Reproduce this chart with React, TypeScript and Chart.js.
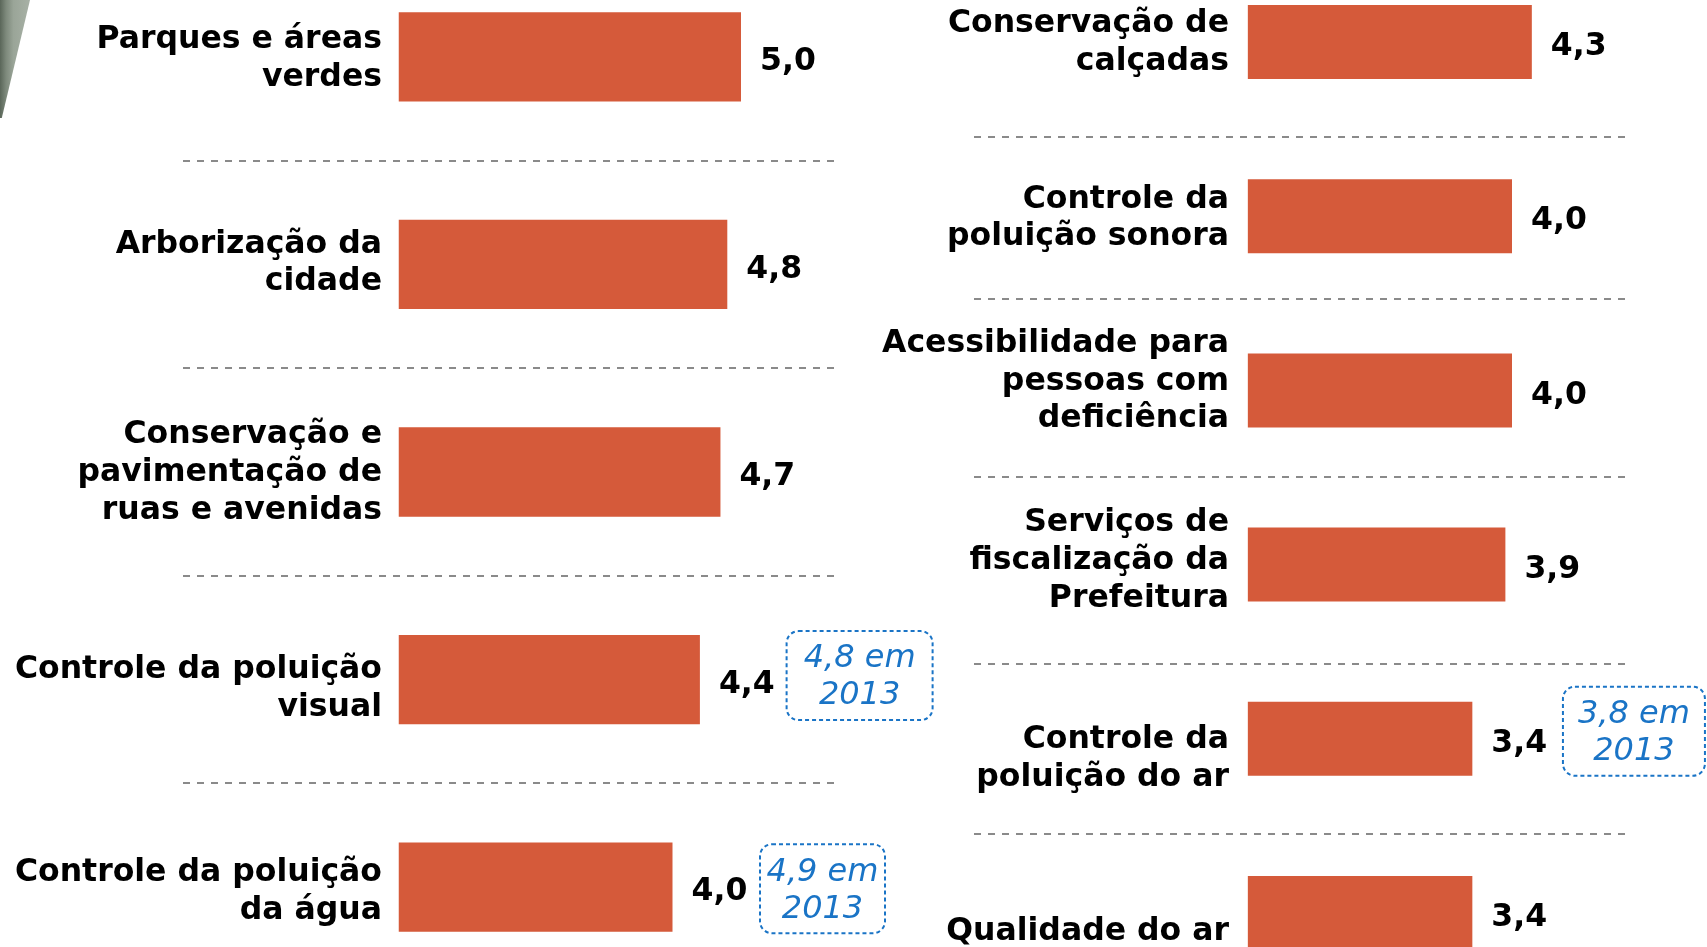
import React, { useEffect, useRef } from "react";
import { Chart, registerables } from "chart.js";

Chart.register(...registerables);

// ---------- data ----------
const leftCategories: string[][] = [
  ["Parques e áreas", "verdes"],
  ["Arborização da", "cidade"],
  ["Conservação e", "pavimentação de", "ruas e avenidas"],
  ["Controle da poluição", "visual"],
  ["Controle da poluição", "da água"],
];
const leftValues: number[] = [5.0, 4.8, 4.7, 4.4, 4.0];
const leftValues2013: (number | null)[] = [null, null, null, 4.8, 4.9];

const rightCategories: string[][] = [
  ["Conservação de", "calçadas"],
  ["Controle da", "poluição sonora"],
  ["Acessibilidade para", "pessoas com", "deficiência"],
  ["Serviços de", "fiscalização da", "Prefeitura"],
  ["Controle da", "poluição do ar"],
  ["Qualidade do ar"],
];
const rightValues: number[] = [4.3, 4.0, 4.0, 3.9, 3.4, 3.4];
const rightValues2013: (number | null)[] = [null, null, null, null, 3.8, null];

// ---------- style / layout ----------
const BAR_COLOR = "#D55A3A";
const NOTE_COLOR = "#1a74c6";
const FONT_FAMILY = "'DejaVu Sans', Verdana, sans-serif";
const LABEL_SIZE = 31.5;

type NoteGeom = { dx: number; dy: number; w: number };

type Panel = {
  categories: string[][];
  values: number[];
  prev: (number | null)[];
  left: number;
  top: number;
  width: number;
  height: number;
  axisWidth: number;
  tickPad: number;
  unitPx: number;
  xMax: number;
  barPct: number;
  sepFrom: number;
  sepTo: number;
  sepOffsets: number[];
  labelOffsets: number[];
  noteGeom: (NoteGeom | null)[];
};

const fmt = (v: number) => v.toFixed(1).replace(".", ",");

function makeDecor(p: Panel) {
  return {
    id: "decor",
    afterLayout(chart: any) {
      const s = chart.scales.y;
      const items = s.getLabelItems(chart.chartArea);
      items.forEach((it: any, i: number) => {
        it.options.translation[1] += p.labelOffsets[i] || 0;
      });
    },
    afterDatasetsDraw(chart: any) {
      const ctx: CanvasRenderingContext2D = chart.ctx;
      const meta = chart.getDatasetMeta(0);
      const area = chart.chartArea;
      const bars = meta.data;
      ctx.save();
      // dashed separators
      ctx.strokeStyle = "#8a8a8a";
      ctx.lineWidth = 2;
      ctx.setLineDash([7, 7]);
      for (let i = 1; i < bars.length; i++) {
        const y = Math.round((bars[i - 1].y + bars[i].y) / 2 + (p.sepOffsets[i - 1] || 0));
        ctx.beginPath();
        ctx.moveTo(area.left + p.sepFrom, y);
        ctx.lineTo(area.left + p.sepTo, y);
        ctx.stroke();
      }
      ctx.setLineDash([]);
      // value labels
      ctx.fillStyle = "#000";
      ctx.font = `bold ${LABEL_SIZE}px ${FONT_FAMILY}`;
      ctx.textAlign = "left";
      ctx.textBaseline = "middle";
      bars.forEach((b: any, i: number) => {
        ctx.fillText(fmt(p.values[i]), b.x + 19, b.y + 5);
      });
      // 2013 notes
      ctx.font = `italic 32px ${FONT_FAMILY}`;
      bars.forEach((b: any, i: number) => {
        const pv = p.prev[i];
        const g = p.noteGeom[i];
        if (pv == null || !g) return;
        const lines = [`${fmt(pv)} em`, "2013"];
        const boxW = g.w;
        const boxH = 89;
        const x0 = b.x + g.dx;
        const cy = b.y + g.dy;
        ctx.strokeStyle = NOTE_COLOR;
        ctx.lineWidth = 2;
        ctx.setLineDash([4, 3]);
        ctx.beginPath();
        (ctx as any).roundRect(x0, cy - boxH / 2, boxW, boxH, 12);
        ctx.stroke();
        ctx.setLineDash([]);
        ctx.fillStyle = NOTE_COLOR;
        ctx.textAlign = "center";
        ctx.fillText(lines[0], x0 + boxW / 2, cy - 16.5);
        ctx.fillText(lines[1], x0 + boxW / 2, cy + 20.5);
      });
      ctx.restore();
    },
  };
}

function BarPanel({ p }: { p: Panel }) {
  const ref = useRef<HTMLCanvasElement | null>(null);
  useEffect(() => {
    if (!ref.current) return;
    const padRight = p.width - p.axisWidth - p.unitPx * p.xMax;
    const chart = new Chart(ref.current, {
      type: "bar",
      data: {
        labels: p.categories,
        datasets: [
          {
            data: p.values,
            backgroundColor: BAR_COLOR,
            borderWidth: 0,
            barPercentage: p.barPct,
            categoryPercentage: 1,
          },
        ],
      },
      options: {
        indexAxis: "y",
        responsive: false,
        animation: false,
        layout: { padding: { left: 0, right: padRight, top: 0, bottom: 0 } },
        plugins: { legend: { display: false }, tooltip: { enabled: false }, title: { display: false } },
        scales: {
          x: { display: false, min: 0, max: p.xMax },
          y: {
            grid: { display: false, drawTicks: false },
            border: { display: false },
            ticks: {
              autoSkip: false,
              padding: p.tickPad,
              color: "#000",
              font: { family: FONT_FAMILY, size: LABEL_SIZE, weight: "bold", lineHeight: 1.2 },
            },
            afterFit(scale: any) {
              scale.width = p.axisWidth;
              scale.paddingTop = 0;
              scale.paddingBottom = 0;
            },
          },
        },
      },
      plugins: [makeDecor(p)],
    } as any);
    return () => chart.destroy();
  }, [p]);
  return (
    <canvas
      ref={ref}
      width={p.width}
      height={p.height}
      style={{ position: "absolute", left: p.left, top: p.top, width: p.width, height: p.height }}
    />
  );
}

const leftPanel: Panel = {
  categories: leftCategories,
  values: leftValues,
  prev: leftValues2013,
  left: 0,
  top: -47,
  width: 950,
  height: 1038,
  axisWidth: 398.5,
  tickPad: 16.5,
  unitPx: 68.5,
  xMax: 6,
  barPct: 0.43,
  sepFrom: -215.5,
  sepTo: 435.5,
  sepOffsets: [0, 0, 0, 0],
  labelOffsets: [2, -1, 1, 9, 4.5],
  noteGeom: [null, null, null, { dx: 86.7, dy: -4, w: 146 }, { dx: 87.5, dy: 1.5, w: 125 }],
};

const rightPanel: Panel = {
  categories: rightCategories,
  values: rightValues,
  prev: rightValues2013,
  left: 860,
  top: -45,
  width: 847,
  height: 1045,
  axisWidth: 387.6,
  tickPad: 18.6,
  unitPx: 66.1,
  xMax: 6,
  barPct: 0.425,
  sepFrom: -273.6,
  sepTo: 377.4,
  sepOffsets: [7.4, -4.4, -1, 12, 8.6],
  labelOffsets: [1, 2, -9, -4, 20, 18.5],
  noteGeom: [null, null, null, null, { dx: 90.6, dy: -7.5, w: 142 }, null],
};

export default function App() {
  return (
    <div
      style={{
        position: "fixed",
        left: 0,
        top: 0,
        width: 1707,
        height: 947,
        overflow: "hidden",
        background: "#fff",
      }}
    >
      <div
        style={{
          position: "absolute",
          left: 0,
          top: 0,
          width: 30,
          height: 118,
          clipPath: "polygon(0 0, 100% 0, 6% 100%, 0 100%)",
          background: "linear-gradient(to right, #5a6659 0%, #7d897b 20%, #9aa598 45%, #a8b1a6 100%)",
        }}
      />
      <BarPanel p={leftPanel} />
      <BarPanel p={rightPanel} />
    </div>
  );
}
